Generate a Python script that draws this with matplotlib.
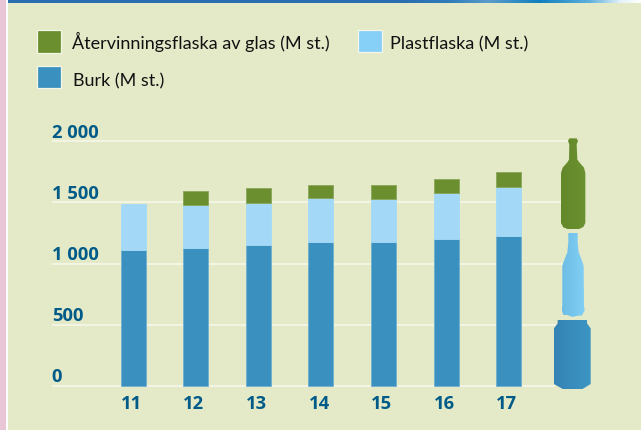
import numpy as np
import matplotlib
matplotlib.use("Agg")
import matplotlib.pyplot as plt
from matplotlib.patches import Rectangle, Polygon
from matplotlib.colors import LinearSegmentedColormap

years = ["11", "12", "13", "14", "15", "16", "17"]
burk = [1110, 1127, 1155, 1176, 1176, 1200, 1222]
plast = [377, 348, 344, 360, 352, 377, 401]
glas = [0, 118, 119, 106, 114, 114, 123]
yticks = [0, 500, 1000, 1500, 2000]
ytick_labels = ["0", "500", "1 000", "1 500", "2 000"]
legend_labels = ["Återvinningsflaska av glas (M st.)", "Plastflaska (M st.)", "Burk (M st.)"]

W, H = 641, 431
GREEN, LIGHT, BLUE = "#6B8E2E", "#A3D9F7", "#3A91BF"
TICK = "#005B88"
PANEL = "#E4EAC8"

fig = plt.figure(figsize=(W / 100, H / 100), dpi=100, facecolor="white")

# page decoration, in pixel coordinates
deco = fig.add_axes([0, 0, 1, 1], zorder=0)
deco.add_patch(Rectangle((0, 0), 6.3, H, color="#E8C6D6", lw=0))
deco.add_patch(Rectangle((7.7, 0), W - 7.7, H, color=PANEL, lw=0))
banner = LinearSegmentedColormap.from_list(
    "banner",
    [(0, "#2A6DB0"), (0.62, "#2A6DB0"), (0.70, "#2F7DBB"), (0.76, "#5C9CCB"),
     (0.84, "#0F7FBF"), (0.92, "#5FB0DC"), (0.97, "#E4F2F8"), (1, "#FFFFFF")])
deco.imshow(np.linspace(0, 1, 400)[None, :], cmap=banner, aspect="auto",
            extent=(7.7, W, 3.8, 0), zorder=1)
deco.set_xlim(0, W)
deco.set_ylim(H, 0)
deco.axis("off")

# plot area: mapped so the value and category scales fall on the reference's pixels
y0_px, per_unit = 386.7, (386.7 - 142.3) / 2000
x0_px, step_px = 133.1, 62.6
ax = fig.add_axes([0, 0, 1, 1], zorder=2)
ax.patch.set_alpha(0)
ax.set_xlim(-x0_px / step_px, (W - x0_px) / step_px)
ax.set_ylim((y0_px - H) / per_unit, y0_px / per_unit)
for s in ax.spines.values():
    s.set_visible(False)
ax.tick_params(left=False, bottom=False, labelleft=False, labelbottom=False)

x = np.arange(len(years))
bar_w = 25.2 / step_px
xmin_g = (52 - x0_px) / step_px
for v, lab in zip(yticks, ytick_labels):
    right_px = 555 if v == 0 else 568
    ax.plot([xmin_g, (right_px - x0_px) / step_px], [v, v], color="#F7F9EC", lw=1.1,
            zorder=1, solid_capstyle="butt")
    ax.text(xmin_g - 0.005, v + 4.3 / per_unit, lab, color=TICK, fontsize=13.2,
            fontweight="bold", family="Open Sans", ha="left", va="baseline", zorder=3)

edge = dict(linewidth=0.6, zorder=2)
ax.bar(x, burk, bar_w, color=BLUE, edgecolor="#6FAFCF", **edge)
ax.bar(x, plast, bar_w, bottom=burk, color=LIGHT, edgecolor="#A3D9F7", **edge)
bottoms = np.array(burk) + np.array(plast)
for xi, b, g in zip(x, bottoms, glas):
    if g > 0:
        ax.bar(xi, g, bar_w, bottom=b, color=GREEN, edgecolor="#8BA65A", **edge)
for xi, lab in zip(x, years):
    ax.text(xi - 0.03, -22.3 / per_unit, lab, color=TICK, fontsize=13.2, fontweight="bold",
            family="Open Sans", ha="center", va="baseline", zorder=3)

# legend
over = fig.add_axes([0, 0, 1, 1], zorder=3)
swatches = [(37, 31, "#6B8E2E", 72, 49), (358, 30.5, "#86CFF7", 390, 49), (37, 66.5, "#3A91BF", 73, 86)]
for (sx, sy, col, tx, ty), lab in zip(swatches, legend_labels):
    over.add_patch(Rectangle((sx, sy), 23.5, 22.5, facecolor=col, edgecolor="#F4F7E8", lw=0.9))
    over.text(tx, ty, lab, fontsize=13.0, family="Lato", color="#111111", ha="left", va="baseline")


def icon(points, c0, c1):
    pts = [(480 + a / 3, 120 + b / 3) for a, b in points]
    xs, ys = zip(*pts)
    cmap = LinearSegmentedColormap.from_list("i", [c0, c1])
    im = over.imshow(np.linspace(0, 1, 50)[None, :], cmap=cmap, aspect="auto",
                     extent=(min(xs), max(xs), max(ys), min(ys)), zorder=4)
    clip = Polygon(pts, closed=True, transform=over.transData, facecolor="none", edgecolor="none")
    over.add_patch(clip)
    im.set_clip_path(clip)


# decorative pictograms (not data)
icon([(268, 58), (290, 58), (294, 66), (290, 76), (292, 122), (298, 130), (312, 146), (316, 162),
      (316, 312), (310, 324), (295, 331), (265, 331), (250, 325), (243, 312), (243, 162),
      (248, 146), (262, 130), (267, 122), (268, 76), (264, 66)], "#62882A", "#6C9130")
icon([(265, 342), (293, 342), (293, 370), (296, 400), (304, 420), (311, 440), (312, 560), (314, 575),
      (305, 590), (292, 590), (278, 594), (262, 588), (250, 588), (245, 572), (247, 560), (247, 440),
      (254, 420), (262, 400), (265, 370)], "#6CBDE6", "#82CFF5")
icon([(233, 603), (321, 603), (321, 613), (332, 628), (332, 795), (306, 811), (250, 811), (222, 795),
      (222, 628), (233, 613)], "#3484B4", "#3D95C4")
over.set_xlim(0, W)
over.set_ylim(H, 0)
over.axis("off")

fig.savefig("out.png", dpi=100)
